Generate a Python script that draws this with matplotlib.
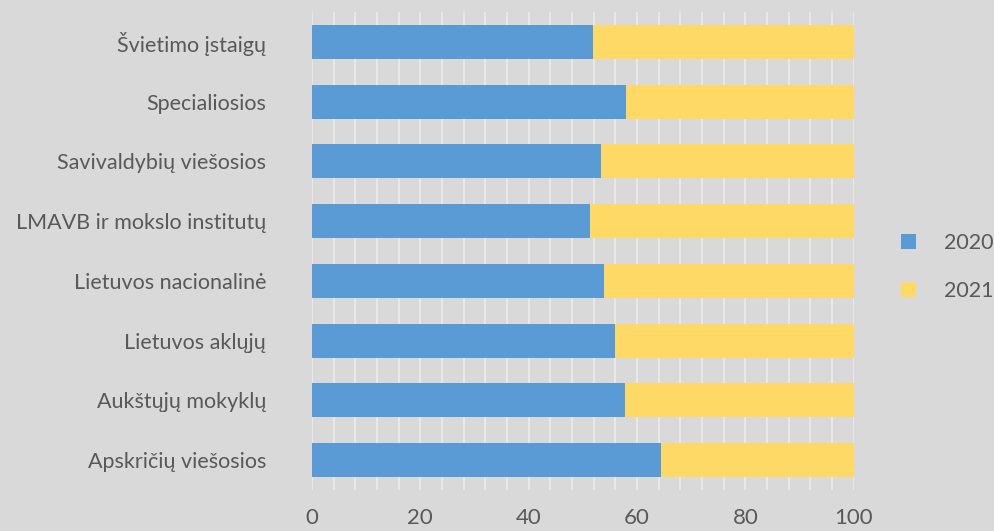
import numpy as np
import matplotlib.pyplot as plt

plt.rcParams['font.family'] = ['Lato', 'DejaVu Sans']

# Kategorijos (iš apačios į viršų)
kategorijos = ['Apskričių viešosios', 'Aukštųjų mokyklų', 'Lietuvos aklųjų',
               'Lietuvos nacionalinė', 'LMAVB ir mokslo institutų',
               'Savivaldybių viešosios', 'Specialiosios', 'Švietimo įstaigų']
v2020 = [64.4, 57.7, 55.9, 53.9, 51.3, 53.3, 57.9, 51.8]
v2021 = [100 - v for v in v2020]

bg = '#d9d9d9'
txt = '#595959'

fig = plt.figure(figsize=(9.94, 5.31), dpi=100, facecolor=bg)
ax = fig.add_axes([0.3139, 0.0772, 0.545, 0.9002], facecolor=bg)

y = np.arange(len(kategorijos))
ax.barh(y, v2020, height=0.57, color='#5b9bd5', label='2020', zorder=3)
ax.barh(y, v2021, left=v2020, height=0.57, color='#ffd966', label='2021', zorder=3)

ax.set_xlim(0, 100)
ax.set_ylim(-0.5, len(kategorijos) - 0.5)
ax.set_xticks(np.arange(0, 101, 20))
ax.set_xticks(np.arange(0, 101, 4), minor=True)
ax.set_yticks(y)
ax.set_yticklabels(kategorijos)
ax.grid(axis='x', which='both', color='#ececec', linewidth=1.2, zorder=0)
ax.tick_params(axis='both', which='both', length=0, colors=txt, labelsize=15.5)
ax.tick_params(axis='x', pad=13, labelsize=16)
ax.tick_params(axis='y', pad=33)
for s in ax.spines.values():
    s.set_visible(False)

fig.legend(loc='center left', bbox_to_anchor=(0.906, 0.497), frameon=False,
           fontsize=15.5, labelcolor=txt, handlelength=0.7, handleheight=0.7,
           handletextpad=1.3, labelspacing=1.3, borderaxespad=0, borderpad=0)

plt.savefig('out.png', dpi=100, facecolor=bg)
